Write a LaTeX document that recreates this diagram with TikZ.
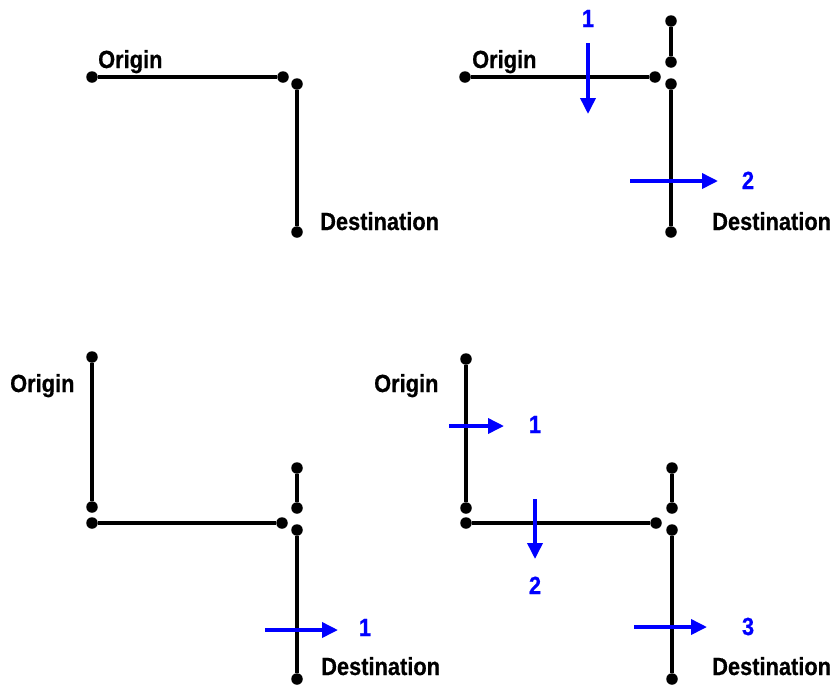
\documentclass[tikz,border=0pt]{standalone}
\usepackage{fontspec}
\setmainfont{Liberation Sans}[FakeStretch=0.88,FakeBold=0.6]
\usetikzlibrary{arrows.meta}
\definecolor{flowblue}{RGB}{0,0,255}
\begin{document}
\begin{tikzpicture}[x=1pt,y=-1pt,
  dot/.style={circle,fill=black,inner sep=0pt,minimum size=11.5pt},
  wire/.style={line width=3.2pt,black},
  flow/.style={line width=3.6pt,flowblue,-{Triangle[length=16pt,width=15pt]}},
  lbl/.style={inner sep=0pt,font=\fontsize{24.8}{28}\selectfont\bfseries},
  num/.style={lbl,text=flowblue,anchor=base}]
\useasboundingbox (0,0) rectangle (835,686);

% ---- top left: single path ----
\node[dot] (a1) at (92,77) {};
\node[dot] (a2) at (283,77) {};
\node[dot] (a3) at (297,84) {};
\node[dot] (a4) at (297,232) {};
\draw[wire] (a1) -- (a2);
\draw[wire] (a3) -- (a4);
\node[lbl,anchor=base west] (ao) at (98,68) {Origin};
\node[lbl,anchor=base west] (ad) at (320,230) {Destination};

% ---- top right: two crossings ----
\node[dot] (b1) at (465,77) {};
\node[dot] (b2) at (655,77) {};
\node[dot] (b3) at (671,21) {};
\node[dot] (b4) at (671,62) {};
\node[dot] (b5) at (671,84) {};
\node[dot] (b6) at (671,232) {};
\draw[wire] (b1) -- (b2);
\draw[wire] (b3) -- (b4);
\draw[wire] (b5) -- (b6);
\node[lbl,anchor=base west] (bo) at (472,68) {Origin};
\node[lbl,anchor=base west] (bd) at (712,230) {Destination};
\coordinate (bs1) at (588,43);
\coordinate (be1) at (588,114);
\draw[flow] (bs1) -- (be1);
\node[num] (bn1) at (588,27) {1};
\coordinate (bs2) at (630,181);
\coordinate (be2) at (718,181);
\draw[flow] (bs2) -- (be2);
\node[num] (bn2) at (748,189) {2};

% ---- bottom left ----
\node[dot] (c1) at (92,357) {};
\node[dot] (c2) at (92,507) {};
\node[dot] (c3) at (92,523) {};
\node[dot] (c4) at (282,523) {};
\node[dot] (c5) at (297,468) {};
\node[dot] (c6) at (297,508) {};
\node[dot] (c7) at (297,530) {};
\node[dot] (c8) at (297,679) {};
\draw[wire] (c1) -- (c2);
\draw[wire] (c3) -- (c4);
\draw[wire] (c5) -- (c6);
\draw[wire] (c7) -- (c8);
\node[lbl,anchor=base west] (co) at (10,392) {Origin};
\node[lbl,anchor=base west] (cd) at (321,675) {Destination};
\coordinate (cs1) at (265,630);
\coordinate (ce1) at (338,630);
\draw[flow] (cs1) -- (ce1);
\node[num] (cn1) at (365,636) {1};

% ---- bottom right: three crossings ----
\node[dot] (d1) at (466,359) {};
\node[dot] (d2) at (466,508) {};
\node[dot] (d3) at (466,523) {};
\node[dot] (d4) at (656,523) {};
\node[dot] (d5) at (672,468) {};
\node[dot] (d6) at (672,508) {};
\node[dot] (d7) at (672,530) {};
\node[dot] (d8) at (672,679) {};
\draw[wire] (d1) -- (d2);
\draw[wire] (d3) -- (d4);
\draw[wire] (d5) -- (d6);
\draw[wire] (d7) -- (d8);
\node[lbl,anchor=base west] (do) at (374,392) {Origin};
\node[lbl,anchor=base west] (dd) at (712,675) {Destination};
\coordinate (ds1) at (449,426);
\coordinate (de1) at (504,426);
\draw[flow] (ds1) -- (de1);
\node[num] (dn1) at (535,433) {1};
\coordinate (ds2) at (535,499);
\coordinate (de2) at (535,559);
\draw[flow] (ds2) -- (de2);
\node[num] (dn2) at (535,594) {2};
\coordinate (ds3) at (634,627);
\coordinate (de3) at (707,627);
\draw[flow] (ds3) -- (de3);
\node[num] (dn3) at (748,635) {3};
\end{tikzpicture}
\end{document}
